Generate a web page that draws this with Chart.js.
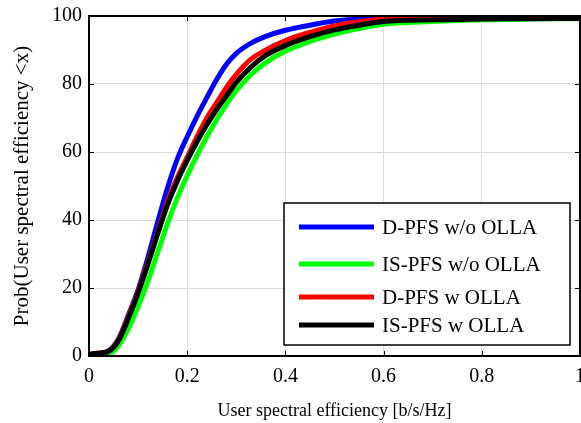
<!DOCTYPE html>
<html>
<head>
<meta charset="utf-8">
<script src="https://cdn.jsdelivr.net/npm/chart.js@4/dist/chart.umd.min.js"></script>
<style>
  html, body { margin: 0; padding: 0; background: #fff; }
  #wrap { width: 581px; height: 423px; }
</style>
</head>
<body>
<div id="wrap"><canvas id="cdf" width="581" height="423"></canvas></div>
<script>
// CDF of user spectral efficiency, 4 schedulers

const xs = [0, 0.02, 0.04, 0.06, 0.08, 0.10, 0.12, 0.14, 0.16, 0.18, 0.20, 0.22, 0.24, 0.26, 0.28,
            0.30, 0.33, 0.36, 0.40, 0.45, 0.50, 0.55, 0.60, 0.70, 0.80, 0.90, 1.00];

const dpfsNoOlla  = [0.5, 0.8, 1.5, 5.0, 12.0, 19.5, 29.0, 39.5, 49.5, 58.0, 64.5, 70.5, 76.0, 81.3, 85.8,
                     89.0, 92.0, 94.0, 95.8, 97.3, 98.5, 99.2, 99.6, 99.8, 99.8, 99.8, 99.8];
const ispfsNoOlla = [0.0, 0.1, 0.5, 3.0, 8.0, 14.5, 22.0, 30.5, 39.0, 46.5, 53.0, 59.0, 64.5, 69.5, 74.0,
                     78.0, 82.8, 86.3, 89.6, 92.5, 94.7, 96.3, 97.6, 98.4, 98.9, 99.1, 99.2];
const dpfsOlla    = [0.5, 0.8, 1.4, 4.8, 11.5, 19.0, 27.5, 36.5, 45.5, 52.5, 58.5, 64.5, 70.0, 74.5, 79.0,
                     82.8, 87.3, 90.0, 92.8, 95.2, 97.1, 98.3, 99.1, 99.4, 99.5, 99.5, 99.5];
const ispfsOlla   = [0.5, 0.8, 1.4, 4.5, 11.0, 18.5, 27.0, 36.0, 44.5, 51.5, 57.5, 63.0, 68.0, 72.5, 76.5,
                     80.5, 85.0, 88.4, 91.3, 93.9, 95.9, 97.3, 98.4, 98.9, 99.1, 99.2, 99.3];

const seriesNames  = ['D-PFS w/o OLLA', 'IS-PFS w/o OLLA', 'D-PFS w OLLA', 'IS-PFS w OLLA'];
const seriesColors = ['#0000ff', '#00ff00', '#ff0000', '#000000'];
const xTicks = [0, 0.2, 0.4, 0.6, 0.8, 1];
const yTicks = [0, 20, 40, 60, 80, 100];

const FONT = "'Liberation Serif', 'Times New Roman', serif";

const pts = (ys) => xs.map((x, i) => ({ x, y: ys[i] }));
const allSeries = [dpfsNoOlla, ispfsNoOlla, dpfsOlla, ispfsOlla];

// matlab-ish box, inward ticks, legend inside the axes
const boxPlugin = {
  id: 'box',
  afterDraw(chart) {
    const { ctx, chartArea: a, scales } = chart;
    ctx.save();
    ctx.strokeStyle = '#000';
    ctx.lineWidth = 1;
    const tl = 5;
    ctx.beginPath();
    xTicks.forEach(v => {
      const px = Math.round(scales.x.getPixelForValue(v)) + 0.5;
      ctx.moveTo(px, a.bottom); ctx.lineTo(px, a.bottom - tl);
      ctx.moveTo(px, a.top); ctx.lineTo(px, a.top + tl);
    });
    yTicks.forEach(v => {
      const py = Math.round(scales.y.getPixelForValue(v)) + 0.5;
      ctx.moveTo(a.left, py); ctx.lineTo(a.left + tl, py);
      ctx.moveTo(a.right, py); ctx.lineTo(a.right - tl, py);
    });
    ctx.stroke();
    ctx.lineWidth = 2;
    ctx.strokeRect(a.left, a.top, a.right - a.left, a.bottom - a.top);

    // legend
    const lx = a.right - 296, ly = a.top + 187, lw = 286, lh = 142;
    ctx.fillStyle = '#fff';
    ctx.fillRect(lx, ly, lw, lh);
    ctx.lineWidth = 1.5;
    ctx.strokeRect(lx, ly, lw, lh);
    const rows = [24, 61, 94, 122];
    ctx.font = `21px ${FONT}`;
    ctx.textBaseline = 'middle';
    ctx.textAlign = 'left';
    seriesNames.forEach((name, i) => {
      const y = ly + rows[i];
      ctx.strokeStyle = seriesColors[i];
      ctx.lineWidth = 5;
      ctx.beginPath();
      ctx.moveTo(lx + 15, y); ctx.lineTo(lx + 90, y);
      ctx.stroke();
      ctx.fillStyle = '#000';
      ctx.fillText(name, lx + 98, y + 1);
    });
    ctx.restore();
  }
};

new Chart(document.getElementById('cdf').getContext('2d'), {
  type: 'line',
  data: {
    datasets: allSeries.map((ys, i) => ({
      label: seriesNames[i],
      data: pts(ys),
      borderColor: seriesColors[i],
      backgroundColor: seriesColors[i],
      borderWidth: 5,
      pointRadius: 0,
      cubicInterpolationMode: 'monotone',
      order: 4 - i,
    }))
  },
  options: {
    responsive: false,
    animation: false,
    layout: { padding: { left: 0, right: 1, top: 16, bottom: 0 } },
    plugins: { legend: { display: false }, tooltip: { enabled: false } },
    scales: {
      x: {
        type: 'linear', min: 0, max: 1,
        afterBuildTicks: (s) => { s.ticks = xTicks.map(v => ({ value: v })); },
        afterFit: (s) => { s.height = 67; s.paddingLeft = 0; s.paddingRight = 0; },
        grid: { color: '#dcdcdc', lineWidth: 1, drawTicks: false },
        border: { display: false },
        ticks: { color: '#000', font: { family: FONT, size: 20 }, padding: 9, maxRotation: 0,
                 callback: (v) => String(v) },
        title: { display: true, text: 'User spectral efficiency [b/s/Hz]', color: '#000',
                 font: { family: FONT, size: 18 }, padding: { top: 0, bottom: 1 } }
      },
      y: {
        min: 0, max: 100,
        afterBuildTicks: (s) => { s.ticks = yTicks.map(v => ({ value: v })); },
        afterFit: (s) => { s.width = 89; s.paddingTop = 0; s.paddingBottom = 0; },
        grid: { color: '#dcdcdc', lineWidth: 1, drawTicks: false },
        border: { display: false },
        ticks: { color: '#000', font: { family: FONT, size: 20 }, padding: 7 },
        title: { display: true, text: 'Prob(User spectral efficiency <x)', color: '#000',
                 font: { family: FONT, size: 21 }, padding: { top: 10, bottom: 0 } }
      }
    }
  },
  plugins: [boxPlugin]
});
</script>
</body>
</html>
